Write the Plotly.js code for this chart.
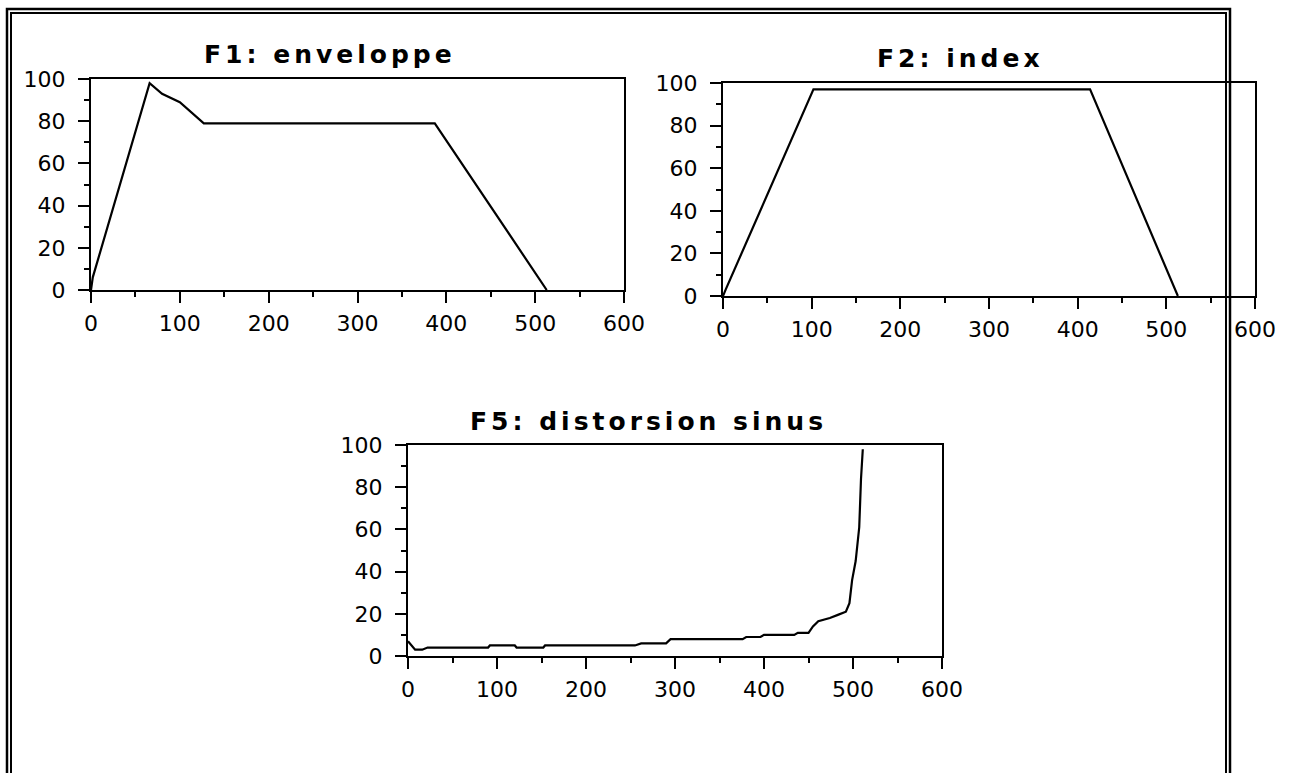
<!DOCTYPE html>
<html>
<head>
<meta charset="utf-8">
<script src="https://cdn.plot.ly/plotly-3.0.1.min.js"></script>
<style>
  html, body { margin: 0; padding: 0; background: #fff; }
  #chart { width: 1292px; height: 773px; }
  .annotation-text { letter-spacing: 4px; }
</style>
</head>
<body>
<div id="chart"></div>
<script>
// ---- data ----
const titles = ["F1: enveloppe", "F2: index", "F5: distorsion sinus"];

const f1X = [0, 2, 66, 80, 100, 127, 387, 513];
const f1Y = [0, 6, 98, 93, 89, 79, 79, 0];

const f2X = [0, 3, 102, 414, 513];
const f2Y = [0, 3, 97, 97, 0];

const f5X = [0, 8, 16, 22, 90, 92, 120, 122, 152, 154, 255, 262, 290, 295, 376, 380, 396, 400, 434, 438, 450, 455, 461, 474, 483, 492, 496, 499, 503, 507, 509, 511];
const f5Y = [7, 3, 3, 4, 4, 5, 5, 4, 4, 5, 5, 6, 6, 8, 8, 9, 9, 10, 10, 11, 11, 14, 16.5, 18, 19.5, 21, 25, 36, 45, 61, 84, 98];

const xTicks = [0, 100, 200, 300, 400, 500, 600];
const yTicks = [0, 20, 40, 60, 80, 100];

// ---- layout helpers (pixel -> paper) ----
const W = 1292, H = 773;
const px = v => v / W;
const py = v => 1 - v / H;

const lineStyle = {color: 'black', width: 2.2};

const traces = [
  {x: f1X, y: f1Y, xaxis: 'x', yaxis: 'y', mode: 'lines', line: lineStyle, hoverinfo: 'skip'},
  {x: f2X, y: f2Y, xaxis: 'x2', yaxis: 'y2', mode: 'lines', line: lineStyle, hoverinfo: 'skip'},
  {x: f5X, y: f5Y, xaxis: 'x3', yaxis: 'y3', mode: 'lines', line: lineStyle, hoverinfo: 'skip'}
];

const tickFont = {family: 'DejaVu Sans', size: 22, color: 'black'};

function xAxis(domain, anchor) {
  return {
    domain: domain, anchor: anchor, range: [0, 600],
    tickvals: xTicks, ticktext: xTicks.map(String),
    ticks: 'outside', ticklen: 11, tickwidth: 2, tickcolor: 'black',
    showline: true, linewidth: 2, linecolor: 'black', mirror: true,
    showgrid: false, zeroline: false, fixedrange: true,
    tickfont: tickFont, ticklabelstandoff: 2,
    minor: {dtick: 50, tick0: 0, ticks: 'outside', ticklen: 5, tickwidth: 2, tickcolor: 'black', showgrid: false}
  };
}
function yAxis(domain, anchor) {
  return {
    domain: domain, anchor: anchor, range: [0, 100],
    tickvals: yTicks, ticktext: yTicks.map(String),
    ticks: 'outside', ticklen: 11, tickwidth: 2, tickcolor: 'black',
    showline: true, linewidth: 2, linecolor: 'black', mirror: true,
    showgrid: false, zeroline: false, fixedrange: true,
    tickfont: tickFont, ticklabelstandoff: 8,
    minor: {dtick: 10, tick0: 0, ticks: 'outside', ticklen: 5, tickwidth: 2, tickcolor: 'black', showgrid: false}
  };
}

const titleFont = {family: 'DejaVu Sans', size: 25, color: 'black', weight: 'bold'};

const layout = {
  width: W, height: H,
  margin: {l: 0, r: 0, t: 0, b: 0},
  paper_bgcolor: 'white', plot_bgcolor: 'white',
  showlegend: false,
  xaxis: xAxis([px(91), px(624)], 'y'),
  yaxis: yAxis([py(290), py(79)], 'x'),
  xaxis2: xAxis([px(723), px(1255)], 'y2'),
  yaxis2: yAxis([py(296), py(83)], 'x2'),
  xaxis3: xAxis([px(408), px(942)], 'y3'),
  yaxis3: yAxis([py(656), py(445)], 'x3'),
  annotations: [
    {text: titles[0], xref: 'paper', yref: 'paper', x: px(330), y: py(54), xanchor: 'center', yanchor: 'middle', showarrow: false, font: titleFont},
    {text: titles[1], xref: 'paper', yref: 'paper', x: px(960), y: py(58), xanchor: 'center', yanchor: 'middle', showarrow: false, font: titleFont},
    {text: titles[2], xref: 'paper', yref: 'paper', x: px(648), y: py(422), xanchor: 'center', yanchor: 'middle', showarrow: false, font: titleFont}
  ],
  shapes: [
    {type: 'rect', xref: 'paper', yref: 'paper', x0: px(7), x1: px(1230), y0: py(9), y1: py(790), line: {color: 'black', width: 2.5}, layer: 'above'},
    {type: 'rect', xref: 'paper', yref: 'paper', x0: px(11), x1: px(1226), y0: py(13), y1: py(790), line: {color: 'black', width: 2}, layer: 'above'}
  ]
};

Plotly.newPlot('chart', traces, layout, {staticPlot: true, displayModeBar: false});
</script>
</body>
</html>
